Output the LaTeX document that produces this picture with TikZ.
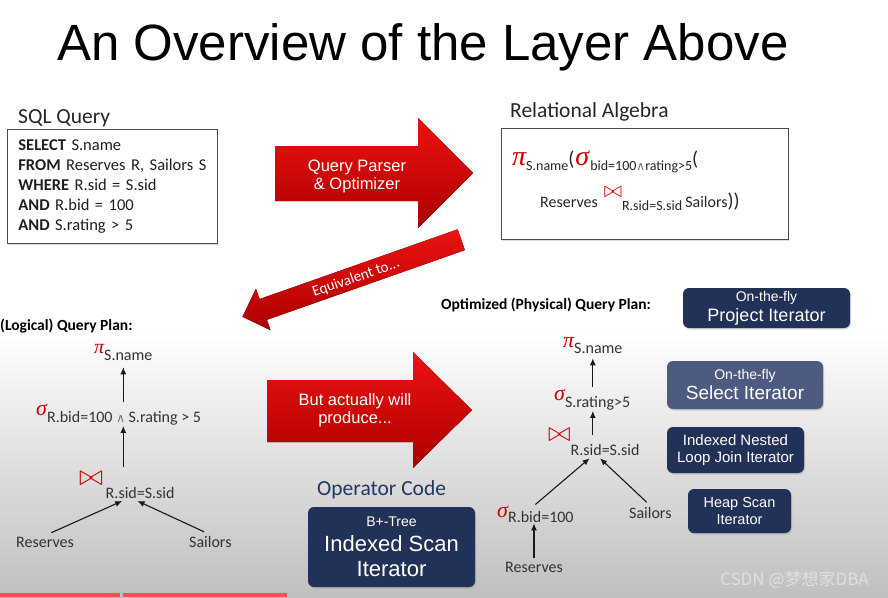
\documentclass[tikz,border=0pt]{standalone}
\usepackage{fontspec}
\setmainfont{Carlito}
\newfontfamily\helv{Liberation Sans}
\newfontfamily\grk{Liberation Serif}
\newfontfamily\sym{DejaVu Sans}
\newfontfamily\cjk{Noto Sans CJK SC}
\usetikzlibrary{arrows.meta,positioning,calc,shadows}
\definecolor{slidered}{RGB}{236,18,18}
\definecolor{deepred}{RGB}{172,0,0}
\definecolor{navy}{RGB}{34,49,88}
\definecolor{slate}{RGB}{78,91,128}
\definecolor{opcode}{RGB}{31,56,100}
\definecolor{greekred}{RGB}{205,0,0}
\newcommand{\gpi}[1]{{\color{greekred}\fontsize{#1}{#1}\selectfont\grk\itshape π}}
\newcommand{\gsig}[1]{{\color{greekred}\fontsize{#1}{#1}\selectfont\grk\itshape σ}}
\newcommand{\bowjoin}[1]{{\color{greekred}\scalebox{#1}{$\bowtie$}}}
\newcommand{\andsym}[1]{{\color{black!55}\sym\fontsize{#1}{#1}\selectfont ∧}}

\begin{document}
\begin{tikzpicture}[
    x=1pt, y=-1pt,
    title/.style={font=\helv\fontsize{51}{52}\selectfont, anchor=base west, inner sep=0},
    heading/.style={font=\fontsize{21.5}{24}\selectfont, anchor=base west, inner sep=0, text=black!85},
    planlabel/.style={font=\bfseries\fontsize{15.5}{18}\selectfont, anchor=base west, inner sep=0},
    tree/.style={font=\fontsize{16}{18}\selectfont, anchor=base west, inner sep=1pt, text=black!80},
    tarr/.style={-{Latex[length=7pt,width=6pt]}, line width=1.1pt, draw=black!90},
    whitebox/.style={draw=black!70, fill=white, line width=0.8pt,
                     drop shadow={opacity=0.25, shadow xshift=1pt, shadow yshift=-1.5pt}},
    redarrow/.style={top color=slidered, bottom color=deepred, draw=none},
    arrowtxt/.style={font=\helv\fontsize{16.5}{18}\selectfont, text=white, align=center},
    iter/.style={rounded corners=6pt, fill=navy, text=white, align=center, inner sep=0,
                 drop shadow={opacity=0.3, shadow xshift=1pt, shadow yshift=-1.5pt}}
]
\useasboundingbox (0,0) rectangle (888,597);
\fill[white] (0,0) rectangle (888,597);
\shade[top color=white, bottom color=black!25] (0,330) rectangle (888,597);
\fill[red!70!white] (0,593) rectangle (120,597);
\fill[red!70!white] (123,593) rectangle (287,597);
\fill[black!25] (287,593) rectangle (888,597);

\node[title] (title) at (57,60) {An Overview of the Layer Above};

\node[heading] (sqlhead) at (18,123) {SQL Query};
\node[whitebox, anchor=north west, minimum width=210, minimum height=114, text width=188,
      inner xsep=11, align=left, font=\fontsize{16.5}{20}\selectfont, text=black!88] (sql) at (7,129)
  {\textbf{SELECT} S.name\\
   \mbox{\textbf{FROM} Reserves R, Sailors S}\\
   \textbf{WHERE} R.sid = S.sid\\
   \textbf{AND} R.bid = 100\\
   \textbf{AND} S.rating > 5};

\node[heading] (rahead) at (510,117) {Relational Algebra};
\node[whitebox, anchor=north west, minimum width=287, minimum height=111] (ra) at (501,128) {};
\node[anchor=base west, inner sep=0, font=\fontsize{14}{14}\selectfont, text=black!85] (ra1) at (512,165)
  {\gpi{28}\raisebox{-5pt}{S.name}{\fontsize{20}{20}\selectfont(}\hspace{1pt}\gsig{28}\hspace{1pt}\raisebox{-5pt}{bid=100\andsym{12}rating>5}{\fontsize{20}{20}\selectfont(}};
\node[anchor=base west, inner sep=0, font=\fontsize{16}{16}\selectfont, text=black!85] (ra2) at (540,207)
  {Reserves\hspace{6pt}\raisebox{10pt}{\bowjoin{1.3}}\raisebox{-3pt}{\fontsize{14}{14}\selectfont R.sid=S.sid}\hspace{3pt}Sailors{\fontsize{20}{20}\selectfont))}};

\fill[redarrow] (275,146) -- (418,146) -- (418,118) -- (473,173) -- (418,228) -- (418,201) -- (275,201) -- cycle;
\node[arrowtxt] (parse) at (357,176) {Query Parser\\\& Optimizer};

\begin{scope}[shift={(461.3,239.7)}, rotate=199.4]
\fill[redarrow] (0,11) -- (210,11) -- (210,22) -- (232,0) -- (210,-22) -- (210,-11) -- (0,-11) -- cycle;
\end{scope}
\node[font=\fontsize{15}{15}\selectfont, text=white, rotate=19.4, inner sep=0] (equiv) at (356,278) {Equivalent to...};

\node[planlabel] (logical) at (0,330) {(Logical) Query Plan:};
\node[tree] (lpi) at (93,360) {\raisebox{7pt}{\gpi{20}}S.name};
\node[tree] (lsel) at (35,422) {\raisebox{7pt}{\gsig{22}}R.bid=100 \andsym{12} S.rating > 5};
\node[tree] (ljoin) at (78,498) {\raisebox{13pt}{\bowjoin{1.7}}\,R.sid=S.sid};
\node[tree] (lres) at (15,547) {Reserves};
\node[tree] (lsail) at (188,547) {Sailors};
\draw[tarr] (lpi.south |- lsel.north) -- ([yshift=-6pt]lpi.south);
\draw[tarr] ($(lpi.south |- ljoin.base)+(0,-31)$) -- (lpi.south |- lsel.south);
\draw[tarr, shorten <=7pt, shorten >=4pt] (lres.north) -- ([xshift=-1pt]ljoin.south);
\draw[tarr, shorten <=7pt, shorten >=4pt] (lsail.north) -- ([xshift=7pt]ljoin.south);

\fill[redarrow] (267,380) -- (413,380) -- (413,352) -- (472,410) -- (413,468) -- (413,442) -- (267,442) -- cycle;
\node[arrowtxt] (produce) at (355,410) {But actually will\\produce...};

\node[heading, text=opcode] (ophead) at (317,495) {Operator Code};
\node[iter, minimum width=167, minimum height=80, font=\helv\fontsize{22}{25}\selectfont] (btree) at (391.5,547)
  {{\fontsize{14}{14}\selectfont B+-Tree}\\Indexed Scan\\Iterator};

\node[planlabel] (physical) at (441,309) {Optimized (Physical) Query Plan:};
\node[tree] (rpi) at (562,353) {\raisebox{6pt}{\gpi{22}}S.name};
\node[tree] (rsel) at (553,407) {\raisebox{7pt}{\gsig{22}}S.rating>5};
\node[tree] (rjoin) at (547,455) {\raisebox{14pt}{\bowjoin{1.6}}R.sid=S.sid};
\node[tree] (rselb) at (496,522) {\raisebox{5pt}{\gsig{22}}R.bid=100};
\node[tree] (rsail) at (628,518) {Sailors};
\node[tree] (rres) at (504,572) {Reserves};
\draw[tarr] (rpi.south |- rsel.north) -- ([yshift=-4pt]rpi.south);
\draw[tarr] ($(rpi.south |- rjoin.base)+(0,-20)$) -- (rpi.south |- rsel.south);
\draw[tarr, shorten >=3pt] (rselb.north) -- ([xshift=-2pt]rjoin.south);
\draw[tarr, shorten <=5pt, shorten >=3pt] (rsail.north) -- ([xshift=4pt]rjoin.south);
\draw[tarr, shorten <=3pt] (rres.north) -- (rres.north |- rselb.south);

\node[iter, minimum width=167, minimum height=40, font=\helv\fontsize{18}{20}\selectfont] (project) at (766.5,308)
  {{\fontsize{14}{14}\selectfont On-the-fly}\\Project Iterator};
\node[iter, fill=slate, minimum width=156, minimum height=48, font=\helv\fontsize{19}{20}\selectfont] (select) at (745,385)
  {{\fontsize{14}{14}\selectfont On-the-fly}\\Select Iterator};
\node[iter, minimum width=137, minimum height=46, font=\helv\fontsize{15}{17}\selectfont] (nlj) at (735.5,450)
  {Indexed Nested\\Loop Join Iterator};
\node[iter, minimum width=103, minimum height=44, font=\helv\fontsize{14.5}{17}\selectfont] (heap) at (739.5,511)
  {Heap Scan\\Iterator};

\node[anchor=base west, inner sep=0, font=\cjk\fontsize{17}{17}\selectfont, text=white!88!black] (mark) at (720,585) {CSDN @梦想家DBA};
\end{tikzpicture}
\end{document}
